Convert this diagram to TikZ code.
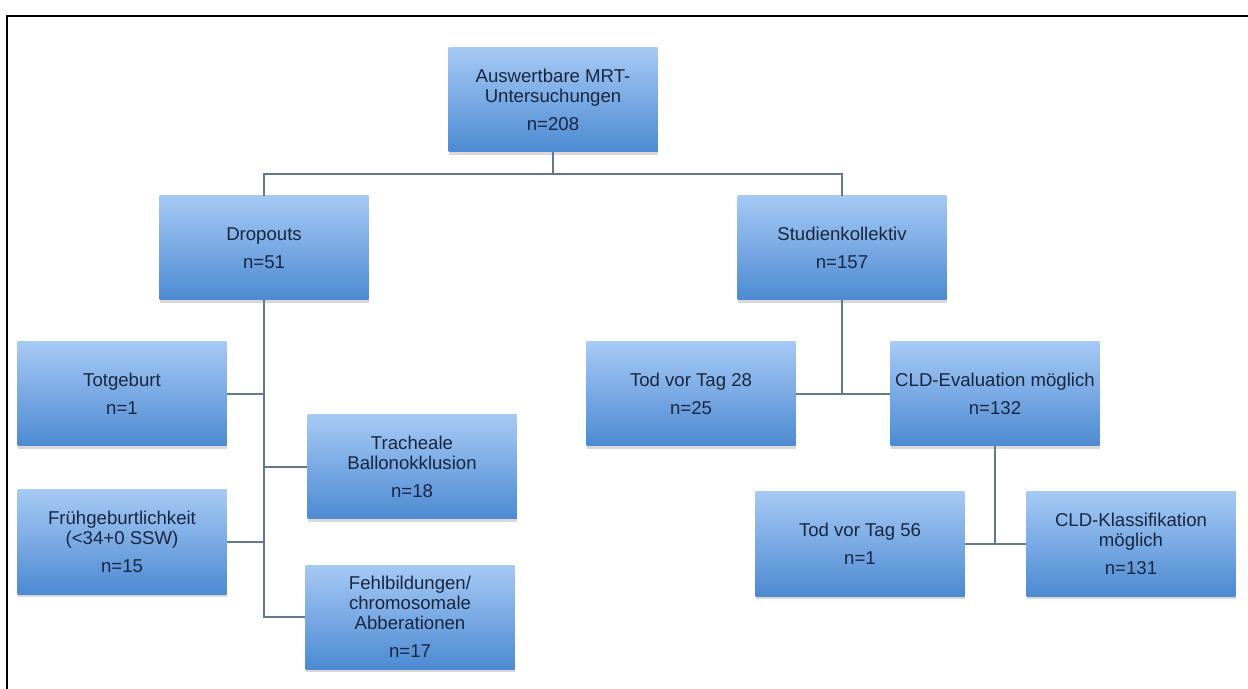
\documentclass[tikz,border=0pt]{standalone}
\usepackage{fontspec}
\setmainfont{Liberation Sans}
\usetikzlibrary{positioning, shadows}
\definecolor{boxtop}{RGB}{166,201,245}
\definecolor{boxbottom}{RGB}{76,138,210}
\definecolor{boxtext}{RGB}{26,38,64}
\definecolor{linecol}{RGB}{98,120,146}
\tikzset{
	x=0.5pt, y=-0.5pt, % one unit is one pixel of the chart, y runs downwards
	orgbox/.style={rectangle, minimum width=104.5pt, minimum height=52pt, inner xsep=1pt,
		top color=boxtop, bottom color=boxbottom, text=boxtext, align=center,
		font=\fontsize{9.3}{10}\selectfont,
		drop shadow={opacity=0.3, shadow xshift=0pt, shadow yshift=-1.5pt}}, % the blue boxes
	link/.style={draw=linecol, line width=0.75pt}, % the thin connecting lines
}

\begin{document}
\begin{tikzpicture}
	\useasboundingbox (0,0) rectangle (1248,689);
	\draw[line width=1pt] (7,689) -- (7,16) -- (1248,16);

			\node[orgbox] (mrt) at (553,100) {Auswertbare MRT-\\Untersuchungen\\[4pt]n=208};
			\node[orgbox] (drop) at (264,248) {Dropouts\\[4pt]n=51};
			\node[orgbox] (studie) at (842,248) {Studienkollektiv\\[4pt]n=157};
			\node[orgbox] (totgeb) at (122,394) {Totgeburt\\[4pt]n=1};
			\node[orgbox] (trach) at (412,467) {Tracheale\\Ballonokklusion\\[4pt]n=18};
			\node[orgbox] (frueh) at (122,542) {Frühgeburtlichkeit\\(<34+0 SSW)\\[4pt]n=15};
			\node[orgbox] (fehl) at (410,617) {Fehlbildungen/\\chromosomale\\Abberationen\\[4pt]n=17};
			\node[orgbox] (tod28) at (691,394) {Tod vor Tag 28\\[4pt]n=25};
			\node[orgbox] (cldeval) at (995,394) {CLD-Evaluation möglich\\[4pt]n=132};
			\node[orgbox] (tod56) at (860,544) {Tod vor Tag 56\\[4pt]n=1};
			\node[orgbox] (cldkl) at (1131,544) {CLD-Klassifikation\\möglich\\[4pt]n=131};

	\coordinate (bus) at (553,174);
	\coordinate (dropend) at (drop.south |- fehl.west);
	\draw[link] (mrt.south) -- (bus);
	\draw[link] (drop.north) |- (bus) -| (studie.north);
	\draw[link] (drop.south) -- (dropend) -- (fehl.west);
	\draw[link] (totgeb.east) -- (totgeb.east -| drop.south);
	\draw[link] (frueh.east) -- (frueh.east -| drop.south);
	\draw[link] (trach.west) -- (trach.west -| drop.south);
	\draw[link] (studie.south) -- (studie.south |- tod28.east);
	\draw[link] (tod28.east) -- (cldeval.west);
	\draw[link] (cldeval.south) -- (cldeval.south |- tod56.east);
	\draw[link] (tod56.east) -- (cldkl.west);
\end{tikzpicture}
\end{document}
